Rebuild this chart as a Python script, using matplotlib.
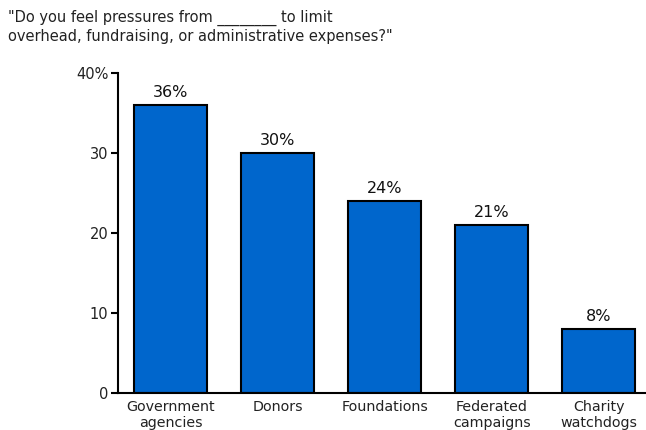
import matplotlib
matplotlib.use("Agg")
import matplotlib.pyplot as plt

categories = ["Government\nagencies", "Donors", "Foundations", "Federated\ncampaigns", "Charity\nwatchdogs"]
values = [36, 30, 24, 21, 8]
value_labels = ["36%", "30%", "24%", "21%", "8%"]
yticks = [0, 10, 20, 30, 40]
ytick_labels = ["0", "10", "20", "30", "40%"]

plt.rcParams['font.family'] = ['DejaVu Sans']
fig = plt.figure(figsize=(6.46, 4.30), dpi=100)
ax = fig.add_axes([118/646, 1-393/430, 1-118/646, 320/430])

x = list(range(len(categories)))
ax.bar(x, values, width=0.68, color="#0066CC", edgecolor="black", linewidth=1.5, zorder=2)
for xi, v, lab in zip(x, values, value_labels):
    ax.text(xi, v + 0.6, lab, ha="center", va="bottom", fontsize=11.5, color="#111111")

ax.set_xlim(-0.49, 4.44)
ax.set_ylim(0, 40)
ax.set_yticks(yticks)
ax.set_yticklabels(ytick_labels, fontsize=10.5, color="#222222")
ax.set_xticks(x)
ax.set_xticklabels(categories, fontsize=10.3, color="#222222", linespacing=1.15)
ax.tick_params(axis="x", length=0, pad=5)
ax.tick_params(axis="y", length=5, width=1.5, direction="out", pad=2)
for s in ["top", "right"]:
    ax.spines[s].set_visible(False)
ax.spines["left"].set_linewidth(1.5)
ax.spines["bottom"].set_linewidth(1.5)

fig.text(8/646, 1-10/430, "\"Do you feel pressures from ________ to limit\noverhead, fundraising, or administrative expenses?\"",
         ha="left", va="top", fontsize=10.5, color="#222222", linespacing=1.2)

fig.savefig("out.png", dpi=100)
